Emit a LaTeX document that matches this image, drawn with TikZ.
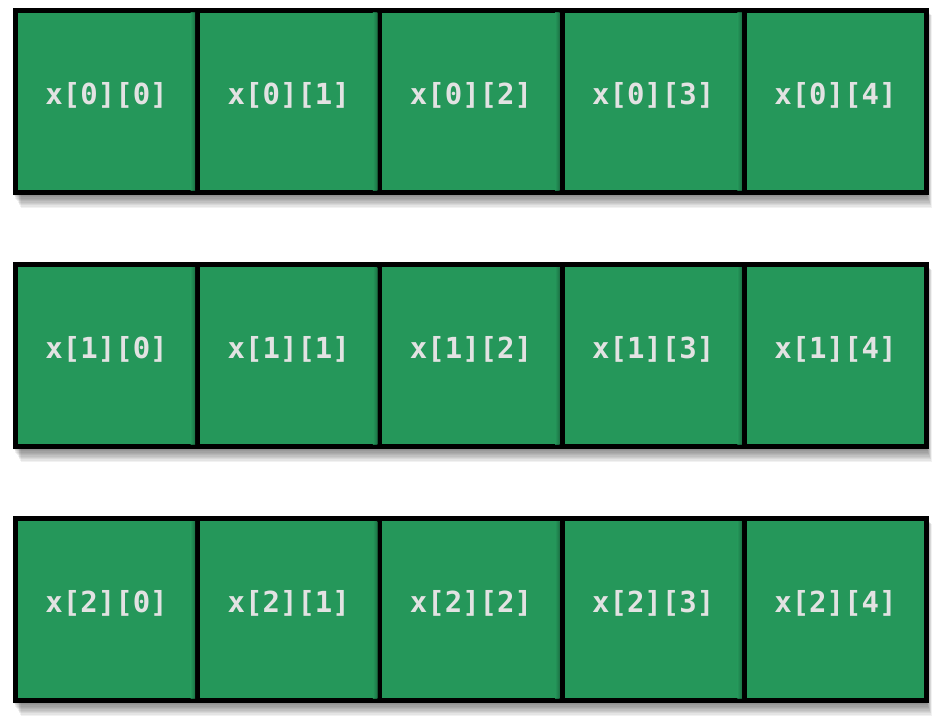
\documentclass[tikz,border=0pt]{standalone}
\usepackage{fontspec}
\newfontfamily\cellfont{DejaVu Sans Mono}
\definecolor{cellgreen}{HTML}{25975A}
\definecolor{celldark}{HTML}{1A6A40}
\definecolor{celltext}{HTML}{E2E2E2}
\tikzset{
  cell/.style={draw=black, line width=5pt, fill=cellgreen, minimum width=182.2pt, minimum height=182pt,
    inner sep=0pt, outer sep=0pt, text=celltext, font=\cellfont\bfseries\fontsize{29}{34}\selectfont},
}
\begin{document}
\begin{tikzpicture}[x=1pt,y=-1pt]
\useasboundingbox (0,0) rectangle (941,722);
\foreach \r/\yc in {0/101.5, 1/355.5, 2/609.5}{
  % soft shadow
  \foreach \k in {1,...,10}{
    \fill[black, opacity=0.055] (13+\k*0.8,\yc-91+\k*0.5) rectangle (926.5+\k*0.55,\yc+91+2+\k*1.35);
  }
  \foreach \c in {0,...,4}{
    \node[cell] (c\r\c) at (106.6+\c*182.2,\yc) {\raisebox{-3pt}[0pt][0pt]{x[\r][\c]}};
  }
  \foreach \c in {0,...,3}{
    \shade[left color=cellgreen, right color=celldark, opacity=0.8]
      ([xshift=-7pt,yshift=-2.5pt]c\r\c.north east) rectangle ([xshift=-2.5pt,yshift=2.5pt]c\r\c.south east);
  }
}
\end{tikzpicture}
\end{document}
